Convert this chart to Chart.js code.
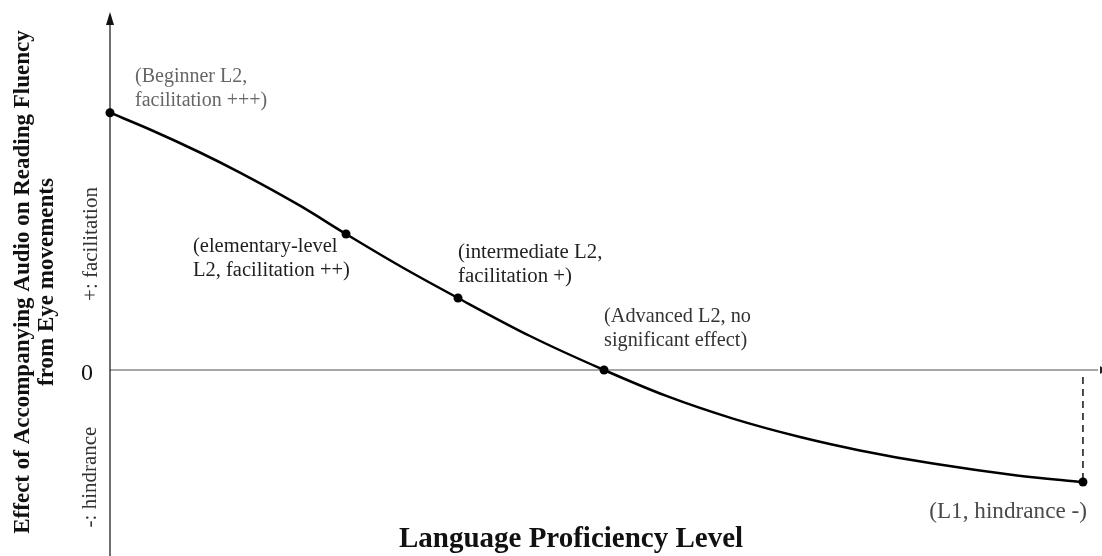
<!DOCTYPE html>
<html>
<head>
<meta charset="utf-8">
<script src="https://cdn.jsdelivr.net/npm/chart.js@4/dist/chart.umd.min.js"></script>
<style>
  html, body { margin: 0; padding: 0; background: #fff; }
  #wrap { width: 1102px; height: 556px; position: relative; }
</style>
</head>
<body>
<div id="wrap"><canvas id="myChart"></canvas></div>
<script>
(() => {
    'use strict';

    // curve (proficiency 0-100, effect in arbitrary units, 0 = no effect)
    const curveX = [0, 4.03, 9.07, 13.1, 19.15, 23.79, 29.23, 35.08, 42.34, 49.8, 56.15, 62.8, 69.56, 75.6, 82.96, 91.43, 98.08]
    const curveY = [2.573, 2.405, 2.175, 1.974, 1.643, 1.36, 1.04, 0.72, 0.34, 0, -0.262, -0.486, -0.67, -0.804, -0.936, -1.054, -1.12]

    // the five marked levels
    const levelX = [0, 23.79, 35.08, 49.8, 98.08]
    const levelY = [2.573, 1.36, 0.72, 0, -1.12]
    const levelLabels = [
        ['(Beginner L2,', 'facilitation +++)'],
        ['(elementary-level', 'L2, facilitation ++)'],
        ['(intermediate L2,', 'facilitation +)'],
        ['(Advanced L2, no', 'significant effect)'],
        ['(L1, hindrance -)']
    ]

    // dashed drop line at L1
    const dropX = [98.08, 98.08]
    const dropY = [-0.07, -1.12]

    const yTitle = ['Effect of Accompanying Audio on Reading Fluency', 'from Eye movements']
    const xTitle = 'Language Proficiency Level'
    const yPosText = '+: facilitation'
    const yNegText = '-: hindrance'
    const yZeroText = '0'

    const serif = "'Liberation Serif', 'DejaVu Serif', serif"

    // label placement relative to its point (px), text colour
    const labelStyle = [
        { dx: 25, dy: -36, align: 'left', color: '#666', size: 20 },
        { dx: -153, dy: 13, align: 'left', color: '#1e1e1e', size: 20.5 },
        { dx: 0, dy: -45, align: 'left', color: '#222', size: 20.8 },
        { dx: 0, dy: -53, align: 'left', color: '#333', size: 20.3 },
        { dx: 4, dy: 30, align: 'right', color: '#4a4a4a', size: 23.2 }
    ]

    const toPts = (xs, ys) => xs.map((x, i) => ({ x: x, y: ys[i] }))

    const axesPlugin = {
        id: 'axesPlugin',
        beforeDatasetsDraw(chart) {
            const c = chart.ctx
            const xs = chart.scales.x, ys = chart.scales.y
            const x0 = xs.getPixelForValue(0)
            const y0 = ys.getPixelForValue(0)
            c.save()
            // zero line
            c.strokeStyle = '#8a8a8a'
            c.lineWidth = 1.5
            c.beginPath()
            c.moveTo(x0, y0)
            c.lineTo(chart.width - 4, y0)
            c.stroke()
            c.fillStyle = '#222'
            c.beginPath()
            c.moveTo(chart.width + 4, y0)
            c.lineTo(chart.width - 2, y0 - 4)
            c.lineTo(chart.width - 2, y0 + 4)
            c.closePath()
            c.fill()
            // vertical axis with arrow
            c.strokeStyle = '#111'
            c.lineWidth = 1.2
            c.beginPath()
            c.moveTo(x0, chart.height)
            c.lineTo(x0, 22)
            c.stroke()
            c.fillStyle = '#111'
            c.beginPath()
            c.moveTo(x0, 12)
            c.lineTo(x0 - 4, 25)
            c.lineTo(x0 + 4, 25)
            c.closePath()
            c.fill()
            c.restore()
        },
        afterDraw(chart) {
            const c = chart.ctx
            const xs = chart.scales.x, ys = chart.scales.y
            c.save()
            c.textBaseline = 'middle'
            // point labels
            levelLabels.forEach((lines, i) => {
                const s = labelStyle[i]
                const px = xs.getPixelForValue(levelX[i]) + s.dx
                const py = ys.getPixelForValue(levelY[i]) + s.dy
                c.font = `${s.size}px ${serif}`
                c.fillStyle = s.color
                c.textAlign = s.align
                lines.forEach((t, k) => c.fillText(t, px, py + k * 24))
            })
            // x title
            c.fillStyle = '#111'
            c.textAlign = 'center'
            c.font = `bold 29px ${serif}`
            c.fillText(xTitle, 571, 540)
            // zero tick
            c.font = `24px ${serif}`
            c.fillText(yZeroText, 87, ys.getPixelForValue(0) + 4)
            // rotated texts
            const rot = (text, x, y, font, color) => {
                c.save()
                c.translate(x, y)
                c.rotate(-Math.PI / 2)
                c.font = font
                c.fillStyle = color
                c.textAlign = 'center'
                c.fillText(text, 0, 0)
                c.restore()
            }
            rot(yTitle[0], 23, 282, `bold 23px ${serif}`, '#111')
            rot(yTitle[1], 47, 282, `bold 23px ${serif}`, '#111')
            rot(yPosText, 91, 244, `21px ${serif}`, '#333')
            rot(yNegText, 90, 477, `21px ${serif}`, '#333')
            c.restore()
        }
    }

    const chart = new Chart(document.getElementById('myChart'), {
        type: 'scatter',
        data: {
            datasets: [
                {
                    data: toPts(curveX, curveY),
                    showLine: true,
                    borderColor: '#000',
                    borderWidth: 2.5,
                    pointRadius: 0,
                    cubicInterpolationMode: 'monotone',
                    clip: false
                },
                {
                    data: toPts(levelX, levelY),
                    showLine: false,
                    pointRadius: 4.5,
                    pointBackgroundColor: '#000',
                    pointBorderColor: '#000',
                    pointBorderWidth: 0,
                    clip: false
                },
                {
                    data: toPts(dropX, dropY),
                    showLine: true,
                    borderColor: '#111',
                    borderWidth: 1.5,
                    borderDash: [7, 5],
                    pointRadius: 0,
                    clip: false
                }
            ]
        },
        options: {
            responsive: true,
            maintainAspectRatio: false,
            animation: false,
            layout: { autoPadding: false, padding: { left: 110, top: 15, right: 0, bottom: 0 } },
            plugins: { legend: { display: false }, tooltip: { enabled: false } },
            scales: {
                x: { type: 'linear', min: 0, max: 100, display: false },
                y: { type: 'linear', min: -1.86, max: 3.55, display: false }
            }
        },
        plugins: [axesPlugin]
    })
})();
</script>
</body>
</html>
